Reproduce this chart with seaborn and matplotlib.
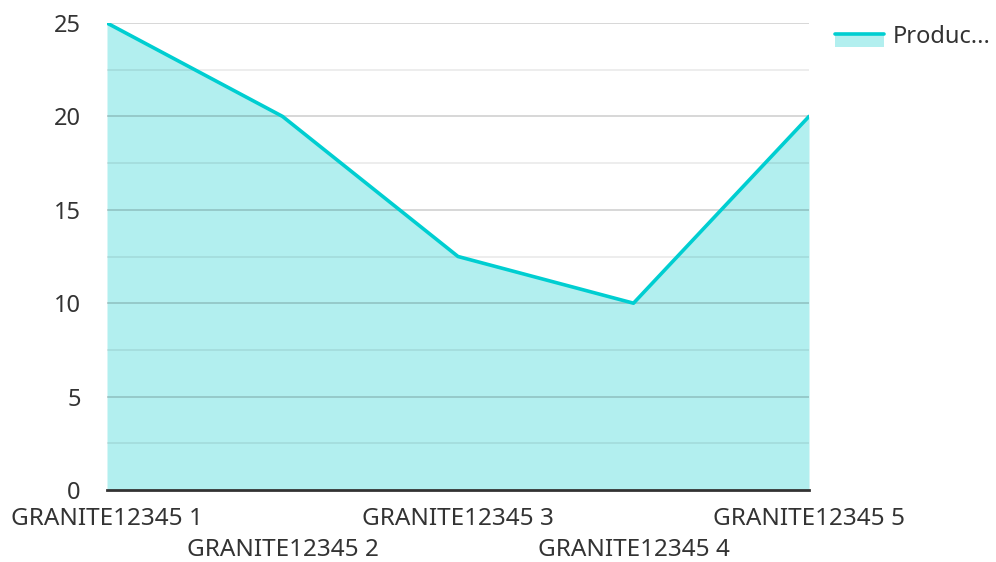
import matplotlib
matplotlib.use('Agg')
import matplotlib.pyplot as plt
import matplotlib.transforms as mtransforms
import seaborn as sns
import pandas as pd
from matplotlib.legend_handler import HandlerBase
from matplotlib.patches import Rectangle
from matplotlib.lines import Line2D

categories = ['GRANITE12345 1', 'GRANITE12345 2', 'GRANITE12345 3', 'GRANITE12345 4', 'GRANITE12345 5']
values = [25, 20, 12.5, 10, 20]
series_name = 'Produc...'
y_ticks = [0, 5, 10, 15, 20, 25]
y_minor = [2.5, 7.5, 12.5, 17.5, 22.5]

line_color = '#00ced1'
fill_color = '#b2efef'

sns.set_style('white')
plt.rcParams['font.family'] = ['Noto Sans', 'Open Sans', 'DejaVu Sans']

df = pd.DataFrame({'x': range(len(categories)), 'y': values})

fig = plt.figure(figsize=(9.96, 5.62), dpi=100)
ax = fig.add_axes([107/996, 1 - 490/562, (809-107)/996, (490-23)/562])

ax.fill_between(df['x'], 0, df['y'], color=fill_color, lw=0, zorder=1)
sns.lineplot(data=df, x='x', y='y', color=line_color, lw=2.6, ax=ax, zorder=3,
             legend=False)

ax.set_xlim(0, len(categories) - 1)
ax.set_ylim(0, 25)
ax.set_yticks(y_ticks)
ax.grid(False)
for v in y_ticks[1:]:
    ax.axhline(v, color='black', alpha=0.2, lw=1.1, zorder=2)
for v in y_minor:
    ax.axhline(v, color='black', alpha=0.09, lw=1.1, zorder=2)

ax.set_xticks(range(len(categories)))
ax.set_xticklabels(categories)
ax.tick_params(axis='x', length=0, pad=12, labelsize=17.5, labelcolor='#333333')
ax.tick_params(axis='y', length=0, pad=19, labelsize=17, labelcolor='#333333')
# stagger every second category label one row lower
shift = mtransforms.ScaledTranslation(0, -0.31, fig.dpi_scale_trans)
for i, lab in enumerate(ax.get_xticklabels()):
    if i % 2 == 1:
        lab.set_transform(lab.get_transform() + shift)
ax.set_xlabel('')
ax.set_ylabel('')
for s in ['top', 'right', 'left']:
    ax.spines[s].set_visible(False)
ax.spines['bottom'].set_color('#333333')
ax.spines['bottom'].set_linewidth(2)
ax.spines['bottom'].set_zorder(4)


class AreaHandler(HandlerBase):
    def create_artists(self, legend, orig_handle, xdescent, ydescent, width, height, fontsize, trans):
        h = height * 0.8
        y0 = -ydescent - height * 0.25
        rect = Rectangle((-xdescent, y0), width, h, facecolor=fill_color,
                         edgecolor='none', transform=trans)
        line = Line2D([-xdescent, -xdescent + width], [y0 + h, y0 + h], color=line_color, lw=2.6,
                      transform=trans)
        return [rect, line]


handle = Rectangle((0, 0), 1, 1)
fig.legend([handle], [series_name], handler_map={Rectangle: AreaHandler()},
           loc='upper left', bbox_to_anchor=(835/996, 1 - 25/562), frameon=False,
           borderpad=0, borderaxespad=0,
           fontsize=17, handlelength=2.08, handletextpad=0.38, labelcolor='#333333')

fig.savefig('out.png', dpi=100)
